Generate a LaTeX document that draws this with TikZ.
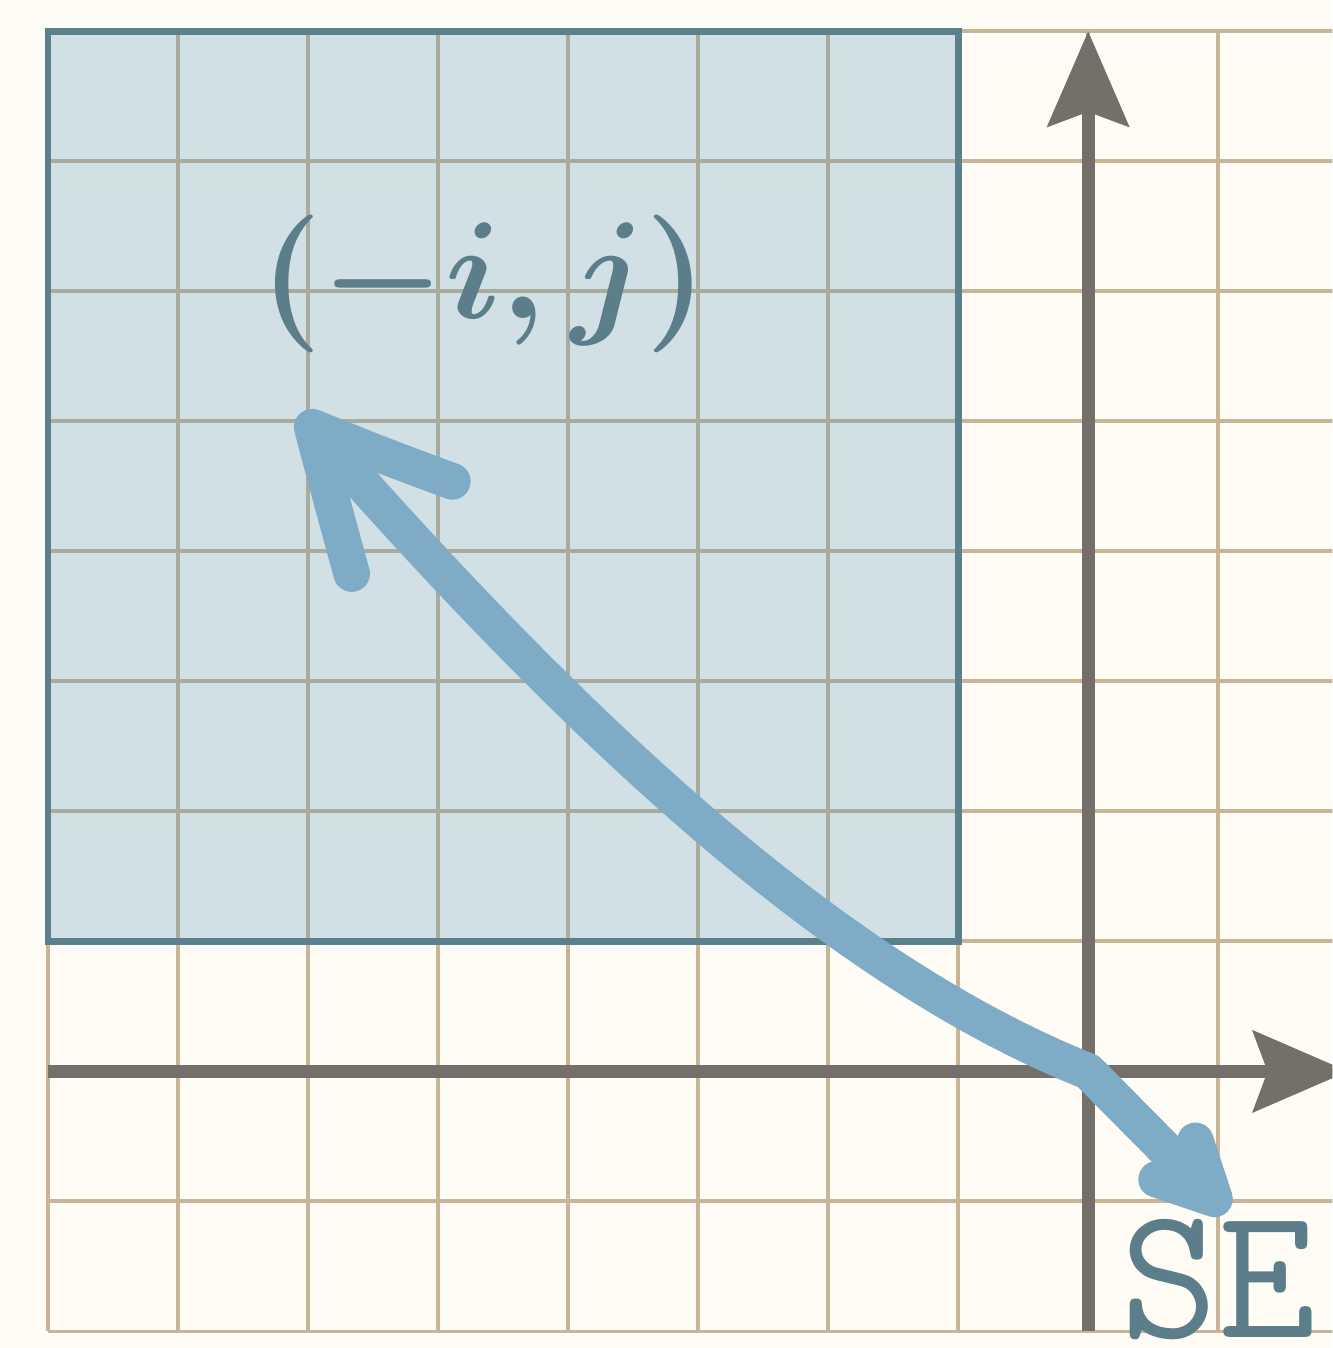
\documentclass[tikz,border=0pt]{standalone}
\usetikzlibrary{arrows.meta,bending}
\definecolor{bgc}{RGB}{255,251,245}
\definecolor{gridc}{RGB}{200,180,150}
\definecolor{axisc}{RGB}{116,111,104}
\definecolor{rectc}{RGB}{91,127,139}
\definecolor{rectfill}{RGB}{75,145,182}
\definecolor{textc}{RGB}{91,126,138}
\definecolor{arrowc}{RGB}{126,172,198}
\begin{document}
\begin{tikzpicture}[
  gridline/.style={draw=gridc, line width=0.87pt},
  axisline/.style={draw=axisc, line width=2.85pt, -{Stealth[length=0.73cm,width=0.62cm,inset=0.11cm]}},
  region/.style={draw=rectc, line width=1.5pt, fill=rectfill, fill opacity=0.25},
  bluearrow/.style={draw=arrowc, line width=8pt, line cap=round, line join=round},
  txt/.style={text=textc, inner sep=0pt}
]
\fill[bgc] (-8.369,-2.127) rectangle (1.877,8.24);
\useasboundingbox (-8.369,-2.127) rectangle (1.877,8.24);
\begin{scope}
\clip (-8.369,-2.127) rectangle (1.877,8.24);
\draw[gridline] (-8,-2) grid (2,8);
\path[region] (-8,1) rectangle (-1,8);
\draw[region, fill opacity=0] (-8,1) rectangle (-1,8);
\coordinate (O) at (0,0);
\coordinate (xs) at (-8,0);
\coordinate (xe) at (2,0);
\coordinate (ys) at (0,-2);
\coordinate (ye) at (0,8);
\draw[axisline] (xs) -- (xe);
\draw[axisline] (ys) -- (ye);
\coordinate (P) at (-6.06,5.06);
\coordinate (Q) at (1.07,-1.08);
\draw[bluearrow, {Straight Barb[bend,round,length=1.05cm,width=1.05cm]}-{Straight Barb[bend,round,length=0.42cm,width=0.42cm]}]
  (P) .. controls (-4,2.7) and (-2,0.8) .. (O) -- (Q);
\node[txt, anchor=base, font=\fontsize{10}{12}\selectfont\boldmath, scale=3.02, transform shape] (ij) at (-4.65,5.79) {$(-i,j)$};
\node[txt, anchor=base, font=\fontsize{41.5}{48}\selectfont\ttfamily] (se) at (1.0,-2.05) {SE};
\end{scope}
\end{tikzpicture}
\end{document}
